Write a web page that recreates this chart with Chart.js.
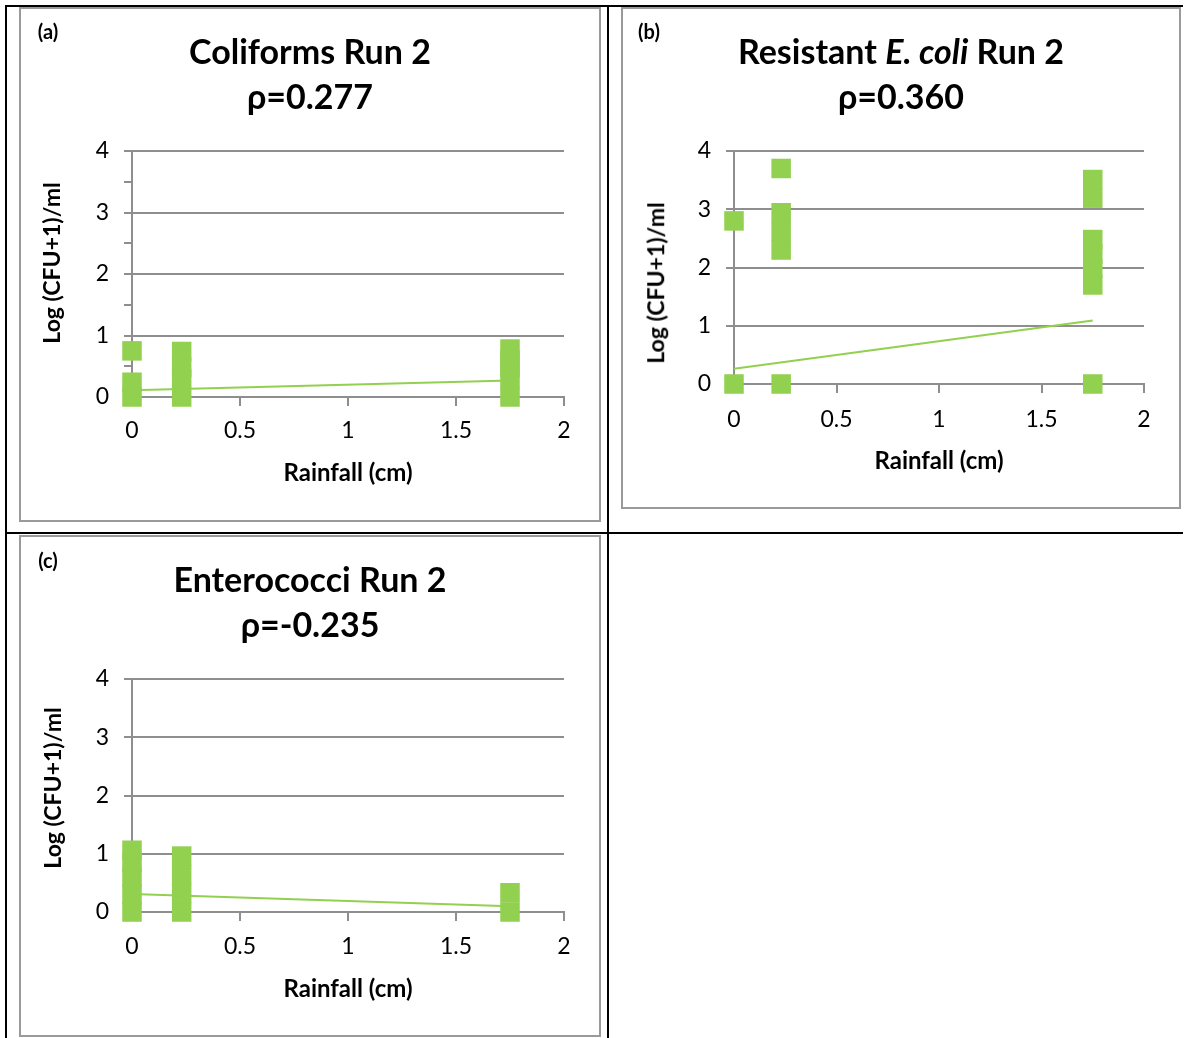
<!DOCTYPE html>
<html>
<head>
<meta charset="utf-8">
<script src="https://cdn.jsdelivr.net/npm/chart.js@4.4.1/dist/chart.umd.min.js"></script>
<style>
  body { margin: 0; background: #fff; }
  #page { position: relative; width: 1185px; height: 1038px; overflow: hidden; font-family: Lato, 'Open Sans', 'Noto Sans', sans-serif; color: #000; }
  .rule { position: absolute; background: #000; }
  .frame { position: absolute; box-sizing: border-box; border: 2px solid #9a9a9a; }
  canvas { position: absolute; }
  .ttl { position: absolute; transform: translate(-50%, -50%); font-weight: bold; font-size: 34px; line-height: 1.2; white-space: nowrap; }
  .tag { position: absolute; transform: translate(-50%, -50%); font-weight: bold; font-size: 20px; line-height: 1.2; }
  .ylab { position: absolute; transform: translate(-50%, -50%) rotate(-90deg); font-weight: bold; font-size: 23px; line-height: 1.2; white-space: nowrap; }
</style>
</head>
<body>
<div id="page">
  <!-- table rules -->
  <div class="rule" style="left:5px;top:5px;width:1178px;height:2px"></div>
  <div class="rule" style="left:5px;top:532px;width:1178px;height:2px"></div>
  <div class="rule" style="left:5px;top:5px;width:2px;height:1033px"></div>
  <div class="rule" style="left:607px;top:5px;width:2px;height:1033px"></div>

  <!-- chart frames -->
  <div class="frame" style="left:19px;top:7px;width:582px;height:515px"></div>
  <div class="frame" style="left:621px;top:7px;width:560px;height:502px"></div>
  <div class="frame" style="left:19px;top:535px;width:582px;height:502px"></div>

  <canvas id="chartA" width="578" height="511" style="left:21px;top:9px"></canvas>
  <canvas id="chartB" width="556" height="497" style="left:623px;top:9px"></canvas>
  <canvas id="chartC" width="578" height="498" style="left:21px;top:537px"></canvas>

  <div class="tag" style="left:48px;top:31px">(a)</div>
  <div class="ttl" style="left:310px;top:51px">Coliforms Run 2</div>
  <div class="ttl" style="left:310px;top:96px">ρ=0.277</div>
  <div class="ylab" style="left:52px;top:263px">Log (CFU+1)/ml</div>

  <div class="tag" style="left:649px;top:31px">(b)</div>
  <div class="ttl" style="left:901px;top:51px">Resistant <i>E. coli</i> Run 2</div>
  <div class="ttl" style="left:901px;top:96px">ρ=0.360</div>
  <div class="ylab" style="left:656px;top:283px">Log (CFU+1)/ml</div>

  <div class="tag" style="left:48px;top:560px">(c)</div>
  <div class="ttl" style="left:310px;top:579px">Enterococci Run 2</div>
  <div class="ttl" style="left:310px;top:624px">ρ=-0.235</div>
  <div class="ylab" style="left:53px;top:788px">Log (CFU+1)/ml</div>
</div>

<script>
// rainfall (cm) and log counts for each sample, one pair of arrays per panel
const coliformRain = [0, 0, 0, 0.23, 0.23, 0.23, 0.23, 1.75, 1.75, 1.75, 1.75, 1.75];
const coliformLog  = [0, 0.24, 0.75, 0, 0.3, 0.48, 0.74, 0, 0.3, 0.48, 0.6, 0.78];

const resistantRain = [0, 0, 0.23, 0.23, 0.23, 0.23, 0.23, 1.75, 1.75, 1.75, 1.75, 1.75, 1.75, 1.75];
const resistantLog  = [0, 2.8, 0, 2.3, 2.62, 2.94, 3.7, 0, 1.7, 1.98, 2.23, 2.48, 3.19, 3.51];

const enteroRain = [0, 0, 0, 0, 0, 0.23, 0.23, 0.23, 0.23, 1.75, 1.75];
const enteroLog  = [0, 0.3, 0.6, 0.85, 1.06, 0, 0.32, 0.64, 0.96, 0, 0.33];

// linear trend lines, start and end
const trendRain = [0, 1.75];
const coliformTrend = [0.11, 0.27];
const resistantTrend = [0.26, 1.09];
const enteroTrend = [0.31, 0.10];

const xTickLabels = ['0', '0.5', '1', '1.5', '2'];
const yTickLabels = ['0', '1', '2', '3', '4'];

const GREEN = '#92d050';
const GRID = '#8e8e8e';
const FONT = "Lato, 'Open Sans', 'Noto Sans', sans-serif";

function pairs(xs, ys) {
    return xs.map((x, i) => ({x: x, y: ys[i]}));
}

function makeChart(id, rain, logs, trend, xHeight, tickPad, titlePad) {
    const ctx = document.getElementById(id).getContext('2d');
    return new Chart(ctx, {
        type: 'scatter',
        data: {
            datasets: [{
                data: pairs(trendRain, trend),
                showLine: true,
                borderColor: GREEN,
                borderWidth: 2,
                pointRadius: 0,
                clip: false
            }, {
                data: pairs(rain, logs),
                pointStyle: 'rect',
                pointRadius: 13.8,
                pointBorderWidth: 0,
                backgroundColor: GREEN,
                borderColor: GREEN,
                clip: false
            }]
        },
        options: {
            responsive: false,
            animation: false,
            events: [],
            layout: { padding: { top: 142, right: 35, left: 0, bottom: 0 } },
            plugins: { legend: { display: false }, tooltip: { enabled: false } },
            scales: {
                x: {
                    type: 'linear',
                    min: 0, max: 2,
                    afterFit: s => { s.height = xHeight; },
                    border: { color: GRID, width: 2 },
                    grid: { drawOnChartArea: false, drawTicks: true, tickLength: 9, tickColor: GRID, lineWidth: 2 },
                    ticks: {
                        stepSize: 0.5,
                        padding: tickPad,
                        color: '#000',
                        font: { family: FONT, size: 23 },
                        callback: (v, i) => xTickLabels[i]
                    },
                    title: {
                        display: true,
                        text: 'Rainfall (cm)',
                        color: '#000',
                        font: { family: FONT, size: 24, weight: 'bold' },
                        padding: { top: 0, bottom: titlePad }
                    }
                },
                y: {
                    type: 'linear',
                    min: 0, max: 4,
                    afterFit: s => { s.width = 111; },
                    border: { color: GRID, width: 2 },
                    grid: {
                        color: c => Number.isInteger(c.tick.value) ? GRID : 'rgba(0,0,0,0)',
                        tickColor: GRID,
                        tickLength: 8,
                        lineWidth: 2
                    },
                    ticks: {
                        stepSize: 0.5,
                        padding: 15,
                        color: '#000',
                        font: { family: FONT, size: 23 },
                        callback: v => Number.isInteger(v) ? yTickLabels[v] : ''
                    }
                }
            }
        }
    });
}

makeChart('chartA', coliformRain, coliformLog, coliformTrend, 123, 11, 32);
makeChart('chartB', resistantRain, resistantLog, resistantTrend, 122, 13, 30);
makeChart('chartC', enteroRain, enteroLog, enteroTrend, 123, 12, 31);
</script>
</body>
</html>
